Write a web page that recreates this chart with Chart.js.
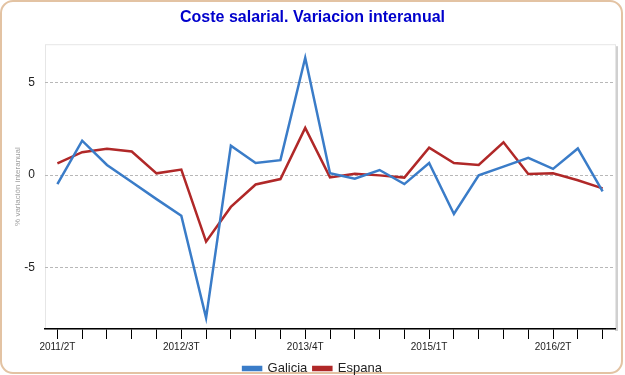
<!DOCTYPE html>
<html>
<head>
<meta charset="utf-8">
<script src="https://cdn.jsdelivr.net/npm/chart.js@4"></script>
<style>
  html, body { margin: 0; padding: 0; background: #fff; }
  #wrap { width: 625px; height: 375px; position: relative; }
</style>
</head>
<body>
<div id="wrap"><canvas id="grafico" width="625" height="375"></canvas></div>
<script>
// trimestres 2011/2T ... 2016/4T
const trimestres = ['2011/2T','2011/3T','2011/4T','2012/1T','2012/2T','2012/3T','2012/4T','2013/1T','2013/2T','2013/3T','2013/4T',
  '2014/1T','2014/2T','2014/3T','2014/4T','2015/1T','2015/2T','2015/3T','2015/4T','2016/1T','2016/2T','2016/3T','2016/4T'];
const galicia = [-0.49, 1.85, 0.54, -0.38, -1.3, -2.2, -7.7, 1.58, 0.65, 0.8, 6.32,
  0.1, -0.2, 0.27, -0.49, 0.65, -2.1, -0.02, 0.45, 0.92, 0.33, 1.43, -0.88];
const espana = [0.63, 1.23, 1.41, 1.27, 0.09, 0.29, -3.59, -1.72, -0.51, -0.22, 2.54,
  -0.13, 0.07, -0.02, -0.14, 1.47, 0.65, 0.54, 1.76, 0.05, 0.09, -0.28, -0.72];
const ticksY = [-5, 0, 5];

// marco redondeado y caja del area de trazado
const marco = {
  id: 'marco',
  beforeDraw(chart) {
    const c = chart.ctx, a = chart.chartArea;
    c.save();
    c.fillStyle = '#fff';
    c.fillRect(0, 0, chart.width, chart.height);
    c.strokeStyle = '#e3c3a3';
    c.lineWidth = 2;
    c.beginPath();
    c.roundRect(1, 1, chart.width - 4, chart.height - 3, 12);
    c.stroke();
    // sombra a la derecha
    c.fillStyle = '#d0d0d0';
    c.fillRect(a.right, a.top + 2, 3, a.bottom - a.top);
    c.strokeStyle = '#e6e6e6';
    c.lineWidth = 1;
    c.strokeRect(a.left + 0.5, a.top + 0.5, a.right - a.left, a.bottom - a.top);
    c.restore();
  }
};

const config = {
  type: 'line',
  data: {
    labels: trimestres,
    datasets: [{
      label: 'Galicia',
      data: galicia,
      borderColor: '#3a7cc8',
      backgroundColor: '#3a7cc8',
      borderWidth: 2.5,
      pointRadius: 0,
      tension: 0,
      fill: false
    }, {
      label: 'Espana',
      data: espana,
      borderColor: '#b02828',
      backgroundColor: '#b02828',
      borderWidth: 2.5,
      pointRadius: 0,
      tension: 0,
      fill: false
    }]
  },
  options: {
    responsive: false,
    animation: false,
    layout: { padding: { left: 10, right: 10, top: 0, bottom: -10 } },
    plugins: {
      title: {
        display: true,
        text: 'Coste salarial. Variacion interanual',
        color: '#0000cc',
        font: { family: 'Liberation Sans', size: 16, weight: 'bold' },
        padding: { top: 8, bottom: 17 }
      },
      legend: {
        position: 'bottom',
        labels: {
          boxWidth: 18,
          boxHeight: 3,
          color: '#222',
          padding: 6,
          font: { family: 'Liberation Sans', size: 13 }
        }
      },
      tooltip: { enabled: false }
    },
    scales: {
      x: {
        offset: true,
        grid: { drawOnChartArea: false, color: '#000', tickLength: 10, offset: false },
        border: { color: '#000', width: 1.5 },
        ticks: {
          autoSkip: false,
          maxRotation: 0,
          color: '#222',
          padding: 2,
          font: { family: 'Liberation Sans', size: 10 },
          callback: (v, i) => (i % 5 === 0 ? trimestres[i] : '')
        },
        afterFit: (s) => { s.height = 27; }
      },
      y: {
        min: -8.3,
        max: 7.05,
        afterBuildTicks: (s) => { s.ticks = ticksY.map((v) => ({ value: v })); },
        afterFit: (s) => { s.width = 35; },
        grid: { color: '#b8b8b8', drawTicks: false },
        border: { display: false, dash: [3, 2] },
        ticks: {
          color: '#222',
          padding: 10,
          font: { family: 'Liberation Sans', size: 12 }
        },
        title: {
          display: true,
          text: '% variación interanual',
          color: '#a0a0a0',
          padding: { top: 3, bottom: 4 },
          font: { family: 'Liberation Sans', size: 8 }
        }
      }
    }
  },
  plugins: [marco]
};

new Chart(document.getElementById('grafico'), config);
</script>
</body>
</html>
